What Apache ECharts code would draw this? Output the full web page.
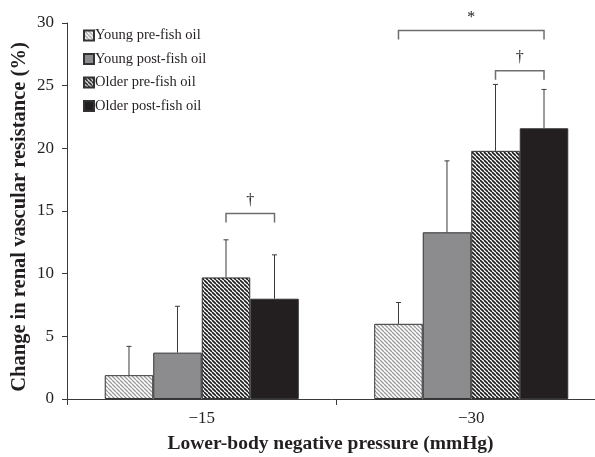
<!DOCTYPE html>
<html><head><meta charset="utf-8">
<script src="https://cdn.jsdelivr.net/npm/echarts@6/dist/echarts.min.js"></script>
<style>html,body{margin:0;padding:0;background:#fff}#c{width:595px;height:457px}</style>
</head><body><div id="c"></div>
<script>
var categories = ['\u221215', '\u221230'];
var seriesNames = ['Young pre-fish oil', 'Young post-fish oil', 'Older pre-fish oil', 'Older post-fish oil'];
var youngPre = [1.9, 6.0];
var youngPost = [3.7, 13.3];
var olderPre = [9.7, 19.8];
var olderPost = [8.0, 21.6];
var youngPreErr = [4.2, 7.7];
var youngPostErr = [7.4, 19.0];
var olderPreErr = [12.7, 25.1];
var olderPostErr = [11.5, 24.7];
// brackets: [category index, from bar index, to bar index, y value, label]
var brackets = [[0, 2, 3, 14.8, '\u2020'], [1, 0, 3, 29.4, '*'], [1, 2, 3, 26.2, '\u2020']];
var yTicks = [0, 5, 10, 15, 20, 25, 30];
var yTitle = 'Change in renal vascular resistance (%)';
var xTitle = 'Lower-body negative pressure (mmHg)';

function hatch(bg, line, spacing, width) {
  var c = document.createElement('canvas');
  c.width = spacing; c.height = spacing;
  var g = c.getContext('2d');
  g.fillStyle = bg; g.fillRect(0, 0, spacing, spacing);
  g.strokeStyle = line; g.lineWidth = width;
  g.beginPath();
  for (var k = -1; k <= 1; k++) {
    g.moveTo(k * spacing, 0); g.lineTo(k * spacing + spacing, spacing);
  }
  g.stroke();
  return {image: c, repeat: 'repeat'};
}
var lightHatch = hatch('#ffffff', '#9a9a9a', 4, 1.3);
var darkHatch = hatch('#ffffff', '#1a1a1a', 4, 1.6);

var barCatGap = 0.28;
var values = [youngPre, youngPost, olderPre, olderPost];
var errs = [youngPreErr, youngPostErr, olderPreErr, olderPostErr];
var fills = [lightHatch, '#8c8c8e', darkHatch, '#231f20'];

function barOffset(api, i) {
  var cw = api.size([1, 0])[0];
  var bw = cw * (1 - barCatGap) / 4;
  return (i - 1.5) * bw;
}

var series = [];
for (var s = 0; s < 4; s++) {
  series.push({
    name: seriesNames[s], type: 'bar', data: values[s],
    barGap: '0%', barCategoryGap: (barCatGap * 100) + '%',
    itemStyle: {color: fills[s], borderColor: '#333', borderWidth: 1},
    z: 2
  });
}
var errData = [];
for (var s2 = 0; s2 < 4; s2++) {
  for (var c2 = 0; c2 < 2; c2++) errData.push([c2, values[s2][c2], errs[s2][c2], s2]);
}
series.push({
  type: 'custom', data: errData, z: 3, silent: true,
  renderItem: function (params, api) {
    var ci = api.value(0), si = api.value(3);
    var p0 = api.coord([ci, api.value(1)]);
    var p1 = api.coord([ci, api.value(2)]);
    var x = p0[0] + barOffset(api, si);
    var st = {stroke: '#3a3a3a', lineWidth: 1};
    return {type: 'group', children: [
      {type: 'line', shape: {x1: x, y1: p0[1], x2: x, y2: p1[1]}, style: st},
      {type: 'line', shape: {x1: x - 2.5, y1: p1[1], x2: x + 2.5, y2: p1[1]}, style: st}
    ]};
  }
});
series.push({
  type: 'custom', data: brackets, z: 3, silent: true,
  renderItem: function (params, api) {
    var ci = api.value(0);
    var p = api.coord([ci, api.value(3)]);
    var xa = p[0] + barOffset(api, api.value(1));
    var xb = p[0] + barOffset(api, api.value(2));
    var y = p[1];
    var lab = brackets[params.dataIndex][4];
    return {type: 'group', children: [
      {type: 'polyline', shape: {points: [[xa, y + 9], [xa, y], [xb, y], [xb, y + 9]]},
        style: {stroke: '#6e6e6e', lineWidth: 1.5, fill: null}},
      {type: 'text', x: (xa + xb) / 2, y: y - 5,
        style: {text: lab, fill: '#222', font: '16px "Liberation Serif"', align: 'center', verticalAlign: 'bottom'}}
    ]};
  }
});

var chart = echarts.init(document.getElementById('c'), null, {renderer: 'canvas'});
chart.setOption({
  animation: false,
  backgroundColor: '#fff',
  textStyle: {fontFamily: 'Liberation Serif'},
  grid: {left: 67, right: -11, top: 23, bottom: 58, containLabel: false, outerBoundsMode: 'none'},
  legend: {
    orient: 'vertical', left: 78, top: 23, itemWidth: 10, itemHeight: 10, itemGap: 8.5,
    icon: 'rect', data: seriesNames,
    textStyle: {fontFamily: 'Liberation Serif', fontSize: 14.5, color: '#231f20', padding: [0, 0, 0, -4]}
  },
  graphic: [{
    type: 'text', x: 20, y: 217, rotation: Math.PI / 2, silent: true,
    style: {text: yTitle, fill: '#231f20', font: 'bold 20.5px "Liberation Serif"', align: 'center', verticalAlign: 'middle'}
  }],
  xAxis: {
    type: 'category', data: categories,
    name: xTitle, nameLocation: 'middle', nameGap: 35,
    nameTextStyle: {fontFamily: 'Liberation Serif', fontWeight: 'bold', fontSize: 19.5, color: '#231f20', padding: [0, 0, 0, -12]},
    axisLine: {lineStyle: {color: '#3a3a3a', width: 1}},
    axisTick: {show: true, length: 6, lineStyle: {color: '#3a3a3a'}},
    axisLabel: {fontFamily: 'Liberation Serif', fontSize: 17, color: '#231f20', margin: 11}
  },
  yAxis: {
    type: 'value', min: 0, max: 30, interval: 5,
    axisLine: {show: true, lineStyle: {color: '#3a3a3a', width: 1}},
    axisTick: {show: true, length: 5, lineStyle: {color: '#3a3a3a'}},
    splitLine: {show: false},
    axisLabel: {fontFamily: 'Liberation Serif', fontSize: 17, color: '#231f20', margin: 13,
      formatter: function (v) { return yTicks.indexOf(v) >= 0 ? String(v) : ''; }}
  },
  series: series
});
</script></body></html>
